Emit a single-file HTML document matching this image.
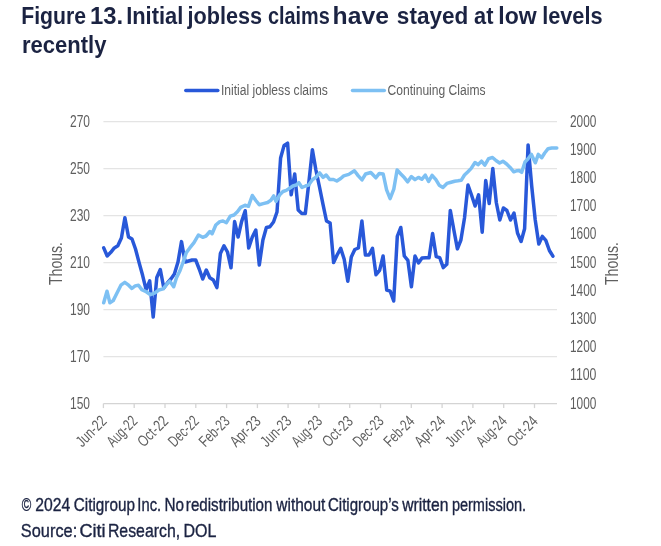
<!DOCTYPE html>
<html><head><meta charset="utf-8"><title>Figure 13</title>
<style>
html,body{margin:0;padding:0;background:#fff;}
svg{display:block;filter:blur(0.45px)}
text{font-family:"Liberation Sans",sans-serif;}
.t{font-weight:bold;font-size:23.3px;fill:#1b2342;}
.f{font-size:17.5px;fill:#1b2342;stroke:#1b2342;stroke-width:0.35px;}
.ax{font-size:16.6px;fill:#5f5f5f;}
.xl{font-size:15.8px;fill:#5f5f5f;}
.lg{font-size:14.9px;fill:#5f5f5f;}
.th{font-size:18px;fill:#5f5f5f;}
</style></head><body>
<svg width="661" height="546" viewBox="0 0 661 546">
<rect width="661" height="546" fill="#fff"/>
<text class="t" y="24"><tspan x="21.24" textLength="64.78" lengthAdjust="spacingAndGlyphs">Figure</tspan> <tspan x="90.12" textLength="33.14" lengthAdjust="spacingAndGlyphs">13.</tspan> <tspan x="126.18" textLength="57.14" lengthAdjust="spacingAndGlyphs">Initial</tspan> <tspan x="187.46" textLength="74.56" lengthAdjust="spacingAndGlyphs">jobless</tspan> <tspan x="267.92" textLength="61.78" lengthAdjust="spacingAndGlyphs">claims</tspan> <tspan x="332.62" textLength="56.34" lengthAdjust="spacingAndGlyphs">have</tspan> <tspan x="396.86" textLength="71.40" lengthAdjust="spacingAndGlyphs">stayed</tspan> <tspan x="474.10" textLength="19.36" lengthAdjust="spacingAndGlyphs">at</tspan> <tspan x="498.36" textLength="38.36" lengthAdjust="spacingAndGlyphs">low</tspan> <tspan x="542.18" textLength="60.40" lengthAdjust="spacingAndGlyphs">levels</tspan></text>
<text class="t" x="22" y="53.3" textLength="84.5" lengthAdjust="spacingAndGlyphs">recently</text>
<line x1="185.8" x2="217.8" y1="90.5" y2="90.5" stroke="#2858d9" stroke-width="3.5" stroke-linecap="round"/>
<text class="lg" x="220.9" y="95.3" textLength="107" lengthAdjust="spacingAndGlyphs">Initial jobless claims</text>
<line x1="352.5" x2="384.3" y1="90.5" y2="90.5" stroke="#7dc0f3" stroke-width="3.5" stroke-linecap="round"/>
<text class="lg" x="387.5" y="95.3" textLength="98" lengthAdjust="spacingAndGlyphs">Continuing Claims</text>
<line x1="103.4" x2="557.0" y1="121.6" y2="121.6" stroke="#e4e4e4" stroke-width="1.4"/>
<line x1="103.4" x2="557.0" y1="168.6" y2="168.6" stroke="#e4e4e4" stroke-width="1.4"/>
<line x1="103.4" x2="557.0" y1="215.6" y2="215.6" stroke="#e4e4e4" stroke-width="1.4"/>
<line x1="103.4" x2="557.0" y1="262.6" y2="262.6" stroke="#e4e4e4" stroke-width="1.4"/>
<line x1="103.4" x2="557.0" y1="309.6" y2="309.6" stroke="#e4e4e4" stroke-width="1.4"/>
<line x1="103.4" x2="557.0" y1="356.6" y2="356.6" stroke="#e4e4e4" stroke-width="1.4"/>
<line x1="103.4" x2="557.0" y1="403.6" y2="403.6" stroke="#d4d4d4" stroke-width="1.3"/>
<line x1="103.4" x2="103.4" y1="403.6" y2="408.1" stroke="#d4d4d4" stroke-width="1.3"/>
<line x1="134.2" x2="134.2" y1="403.6" y2="408.1" stroke="#d4d4d4" stroke-width="1.3"/>
<line x1="165.0" x2="165.0" y1="403.6" y2="408.1" stroke="#d4d4d4" stroke-width="1.3"/>
<line x1="195.8" x2="195.8" y1="403.6" y2="408.1" stroke="#d4d4d4" stroke-width="1.3"/>
<line x1="226.6" x2="226.6" y1="403.6" y2="408.1" stroke="#d4d4d4" stroke-width="1.3"/>
<line x1="257.4" x2="257.4" y1="403.6" y2="408.1" stroke="#d4d4d4" stroke-width="1.3"/>
<line x1="288.1" x2="288.1" y1="403.6" y2="408.1" stroke="#d4d4d4" stroke-width="1.3"/>
<line x1="318.9" x2="318.9" y1="403.6" y2="408.1" stroke="#d4d4d4" stroke-width="1.3"/>
<line x1="349.7" x2="349.7" y1="403.6" y2="408.1" stroke="#d4d4d4" stroke-width="1.3"/>
<line x1="380.5" x2="380.5" y1="403.6" y2="408.1" stroke="#d4d4d4" stroke-width="1.3"/>
<line x1="411.3" x2="411.3" y1="403.6" y2="408.1" stroke="#d4d4d4" stroke-width="1.3"/>
<line x1="442.1" x2="442.1" y1="403.6" y2="408.1" stroke="#d4d4d4" stroke-width="1.3"/>
<line x1="472.9" x2="472.9" y1="403.6" y2="408.1" stroke="#d4d4d4" stroke-width="1.3"/>
<line x1="503.7" x2="503.7" y1="403.6" y2="408.1" stroke="#d4d4d4" stroke-width="1.3"/>
<line x1="534.5" x2="534.5" y1="403.6" y2="408.1" stroke="#d4d4d4" stroke-width="1.3"/>

<polyline points="103.7,247.9 107.2,256.0 110.8,252.3 114.3,247.9 117.8,245.7 121.4,238.0 124.9,217.7 128.5,236.9 132.0,239.0 135.5,249.0 139.1,262.6 142.6,275.3 146.1,289.6 149.7,280.8 153.2,317.0 156.8,277.5 160.3,269.5 163.8,288.0 167.4,283.0 170.9,279.0 174.4,274.0 178.0,262.0 181.5,241.6 185.1,262.0 188.6,261.0 192.1,260.0 195.7,260.0 199.2,269.0 202.7,279.0 206.3,270.0 209.8,277.7 213.3,280.0 216.9,287.6 220.4,253.5 224.0,245.8 227.5,252.0 231.0,267.8 234.6,221.6 238.1,237.0 241.6,221.6 245.2,210.7 248.7,248.0 252.3,237.0 255.8,230.0 259.3,265.0 262.9,240.0 266.4,227.5 269.9,226.7 273.5,222.0 277.0,212.0 280.6,158.0 284.1,145.4 287.6,143.2 291.2,194.8 294.7,174.0 298.2,210.0 301.8,213.5 305.3,213.5 308.8,183.0 312.4,149.8 315.9,170.0 319.5,187.0 323.0,204.4 326.5,221.0 330.1,223.0 333.6,262.6 337.1,255.0 340.7,248.4 344.2,259.3 347.8,281.3 351.3,257.0 354.8,249.5 358.4,248.0 361.9,220.9 365.4,255.0 369.0,255.0 372.5,248.4 376.0,274.7 379.6,270.3 383.1,256.0 386.7,290.0 390.2,291.2 393.7,301.0 397.3,236.3 400.8,227.5 404.3,256.0 407.9,260.4 411.4,286.8 415.0,256.0 418.5,263.0 422.0,258.0 425.6,257.7 429.1,257.7 432.6,233.5 436.2,256.6 439.7,257.7 443.3,267.6 446.8,264.3 450.3,210.4 453.9,230.2 457.4,248.9 460.9,240.0 464.5,218.0 468.0,185.0 471.5,195.0 475.1,206.0 478.6,194.8 482.2,232.2 485.7,180.5 489.2,203.6 492.8,168.5 496.3,202.5 499.8,220.0 503.4,208.0 506.9,210.5 510.5,220.0 514.0,213.0 517.5,233.0 521.1,241.5 524.6,228.7 528.1,144.9 531.7,186.0 535.2,219.7 538.8,244.0 542.3,236.4 545.8,240.3 549.4,250.5 552.9,256.2" fill="none" stroke="#2858d9" stroke-width="3.5" stroke-linejoin="round" stroke-linecap="round"/>
<polyline points="103.7,302.8 107.0,291.2 109.9,302.8 113.2,300.6 116.5,294.0 120.9,285.2 124.8,282.4 128.6,285.2 131.9,288.5 135.2,285.9 138.5,285.2 141.8,289.6 146.2,291.8 150.5,294.7 155.0,292.9 158.8,290.0 163.2,288.9 166.5,284.5 169.8,281.2 173.7,286.7 176.4,277.9 179.7,271.3 183.0,262.5 186.3,252.6 189.6,248.2 194.0,242.7 198.4,235.0 202.7,237.3 206.0,236.0 209.9,231.5 212.1,233.7 215.8,225.0 219.8,221.6 223.0,221.0 226.4,222.7 230.3,216.2 234.0,215.0 237.4,211.8 240.7,207.4 245.0,205.2 248.4,206.3 252.3,195.5 255.8,200.5 259.2,204.7 263.2,203.6 267.6,202.5 270.9,200.3 273.7,195.9 276.0,201.4 279.7,194.8 283.0,191.5 286.3,190.4 289.6,188.2 292.9,186.0 296.2,185.0 298.8,182.7 302.0,187.5 305.5,186.0 308.6,185.0 312.6,179.5 315.9,177.3 319.6,172.9 323.1,177.3 326.2,175.0 329.7,179.5 333.5,179.5 336.8,181.0 340.7,178.5 343.7,175.9 348.8,174.4 354.4,170.8 358.3,175.9 362.0,179.9 365.6,174.0 370.8,172.5 375.9,177.8 379.3,173.4 383.2,174.0 386.6,189.8 390.1,198.6 393.8,189.1 397.1,170.0 400.8,174.0 404.5,177.8 407.7,181.8 411.4,176.6 415.0,179.6 418.4,177.4 421.8,179.3 425.3,175.2 428.6,181.5 432.1,175.3 435.9,179.7 439.2,185.2 442.9,187.4 446.9,183.4 450.2,182.5 454.6,181.2 457.9,180.8 461.2,180.3 464.5,175.0 467.7,172.0 471.0,168.6 475.0,162.5 478.0,164.7 481.5,161.2 484.8,165.2 488.6,158.6 492.5,157.5 496.3,160.8 499.6,163.0 502.9,161.2 506.6,164.0 510.1,167.4 513.8,171.8 517.1,170.7 519.1,170.5 521.7,172.3 525.0,162.0 528.1,158.7 531.4,154.4 535.3,162.8 538.3,154.4 541.7,157.7 544.7,153.0 548.1,148.7 551.7,148.0 556.8,148.0" fill="none" stroke="#7dc0f3" stroke-width="3.5" stroke-linejoin="round" stroke-linecap="round"/>
<text class="ax" x="70" y="126.5" textLength="20" lengthAdjust="spacingAndGlyphs">270</text>
<text class="ax" x="70" y="173.5" textLength="20" lengthAdjust="spacingAndGlyphs">250</text>
<text class="ax" x="70" y="220.5" textLength="20" lengthAdjust="spacingAndGlyphs">230</text>
<text class="ax" x="70" y="267.5" textLength="20" lengthAdjust="spacingAndGlyphs">210</text>
<text class="ax" x="70" y="314.5" textLength="20" lengthAdjust="spacingAndGlyphs">190</text>
<text class="ax" x="70" y="361.5" textLength="20" lengthAdjust="spacingAndGlyphs">170</text>
<text class="ax" x="70" y="408.5" textLength="20" lengthAdjust="spacingAndGlyphs">150</text>
<text class="ax" x="570" y="126.5" textLength="26.4" lengthAdjust="spacingAndGlyphs">2000</text>
<text class="ax" x="570" y="154.7" textLength="26.4" lengthAdjust="spacingAndGlyphs">1900</text>
<text class="ax" x="570" y="182.9" textLength="26.4" lengthAdjust="spacingAndGlyphs">1800</text>
<text class="ax" x="570" y="211.1" textLength="26.4" lengthAdjust="spacingAndGlyphs">1700</text>
<text class="ax" x="570" y="239.3" textLength="26.4" lengthAdjust="spacingAndGlyphs">1600</text>
<text class="ax" x="570" y="267.5" textLength="26.4" lengthAdjust="spacingAndGlyphs">1500</text>
<text class="ax" x="570" y="295.7" textLength="26.4" lengthAdjust="spacingAndGlyphs">1400</text>
<text class="ax" x="570" y="323.9" textLength="26.4" lengthAdjust="spacingAndGlyphs">1300</text>
<text class="ax" x="570" y="352.1" textLength="26.4" lengthAdjust="spacingAndGlyphs">1200</text>
<text class="ax" x="570" y="380.3" textLength="26.4" lengthAdjust="spacingAndGlyphs">1100</text>
<text class="ax" x="570" y="408.5" textLength="26.4" lengthAdjust="spacingAndGlyphs">1000</text>
<text class="xl" text-anchor="end" textLength="36" lengthAdjust="spacingAndGlyphs" transform="translate(107.6,422.2) rotate(-45)">Jun-22</text>
<text class="xl" text-anchor="end" textLength="36" lengthAdjust="spacingAndGlyphs" transform="translate(138.4,422.2) rotate(-45)">Aug-22</text>
<text class="xl" text-anchor="end" textLength="36" lengthAdjust="spacingAndGlyphs" transform="translate(169.2,422.2) rotate(-45)">Oct-22</text>
<text class="xl" text-anchor="end" textLength="36" lengthAdjust="spacingAndGlyphs" transform="translate(200.0,422.2) rotate(-45)">Dec-22</text>
<text class="xl" text-anchor="end" textLength="36" lengthAdjust="spacingAndGlyphs" transform="translate(230.8,422.2) rotate(-45)">Feb-23</text>
<text class="xl" text-anchor="end" textLength="36" lengthAdjust="spacingAndGlyphs" transform="translate(261.6,422.2) rotate(-45)">Apr-23</text>
<text class="xl" text-anchor="end" textLength="36" lengthAdjust="spacingAndGlyphs" transform="translate(292.3,422.2) rotate(-45)">Jun-23</text>
<text class="xl" text-anchor="end" textLength="36" lengthAdjust="spacingAndGlyphs" transform="translate(323.1,422.2) rotate(-45)">Aug-23</text>
<text class="xl" text-anchor="end" textLength="36" lengthAdjust="spacingAndGlyphs" transform="translate(353.9,422.2) rotate(-45)">Oct-23</text>
<text class="xl" text-anchor="end" textLength="36" lengthAdjust="spacingAndGlyphs" transform="translate(384.7,422.2) rotate(-45)">Dec-23</text>
<text class="xl" text-anchor="end" textLength="36" lengthAdjust="spacingAndGlyphs" transform="translate(415.5,422.2) rotate(-45)">Feb-24</text>
<text class="xl" text-anchor="end" textLength="36" lengthAdjust="spacingAndGlyphs" transform="translate(446.3,422.2) rotate(-45)">Apr-24</text>
<text class="xl" text-anchor="end" textLength="36" lengthAdjust="spacingAndGlyphs" transform="translate(477.1,422.2) rotate(-45)">Jun-24</text>
<text class="xl" text-anchor="end" textLength="36" lengthAdjust="spacingAndGlyphs" transform="translate(507.9,422.2) rotate(-45)">Aug-24</text>
<text class="xl" text-anchor="end" textLength="36" lengthAdjust="spacingAndGlyphs" transform="translate(538.7,422.2) rotate(-45)">Oct-24</text>

<text class="th" text-anchor="middle" textLength="43" lengthAdjust="spacingAndGlyphs" transform="translate(62,263.5) rotate(-90)">Thous.</text>
<text class="th" text-anchor="middle" textLength="43" lengthAdjust="spacingAndGlyphs" transform="translate(618.3,263.5) rotate(-90)">Thous.</text>
<text class="f" y="510.7"><tspan x="21.66" textLength="9.50" lengthAdjust="spacingAndGlyphs">©</tspan> <tspan x="35.28" textLength="34.94" lengthAdjust="spacingAndGlyphs">2024</tspan> <tspan x="73.72" textLength="61.18" lengthAdjust="spacingAndGlyphs">Citigroup</tspan> <tspan x="137.36" textLength="23.72" lengthAdjust="spacingAndGlyphs">Inc.</tspan> <tspan x="164.42" textLength="19.54" lengthAdjust="spacingAndGlyphs">No</tspan> <tspan x="185.86" textLength="86.60" lengthAdjust="spacingAndGlyphs">redistribution</tspan> <tspan x="276.34" textLength="48.94" lengthAdjust="spacingAndGlyphs">without</tspan> <tspan x="327.98" textLength="70.86" lengthAdjust="spacingAndGlyphs">Citigroup’s</tspan> <tspan x="402.28" textLength="46.12" lengthAdjust="spacingAndGlyphs">written</tspan> <tspan x="451.92" textLength="74.16" lengthAdjust="spacingAndGlyphs">permission.</tspan></text>
<text class="f" y="537.3" style="font-size:18.2px"><tspan x="20.86" textLength="56.34" lengthAdjust="spacingAndGlyphs">Source:</tspan> <tspan x="79.48" textLength="26.16" lengthAdjust="spacingAndGlyphs">Citi</tspan> <tspan x="107.92" textLength="72.22" lengthAdjust="spacingAndGlyphs">Research,</tspan> <tspan x="183.42" textLength="32.92" lengthAdjust="spacingAndGlyphs">DOL</tspan></text>
</svg>
</body></html>
